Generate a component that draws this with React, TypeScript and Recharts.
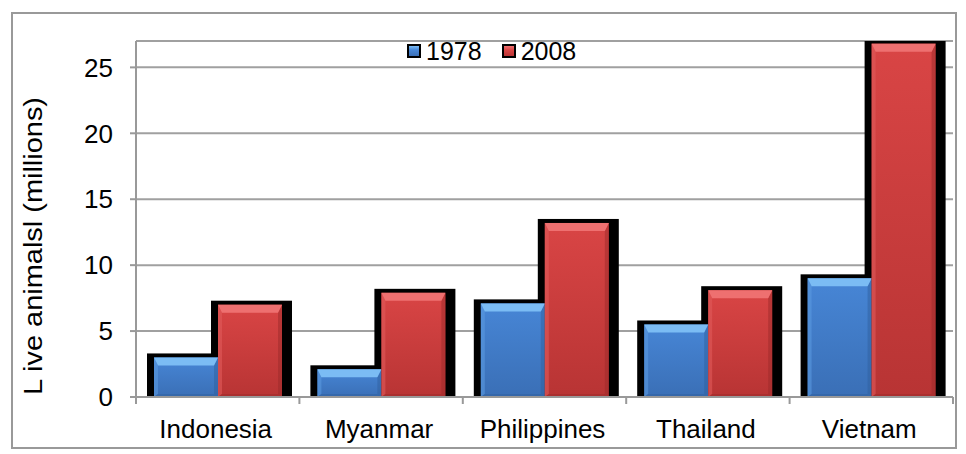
import { Bar, BarChart, CartesianGrid, Legend, XAxis, YAxis } from 'recharts';

const FONT = '"Liberation Sans", Arial, sans-serif';

const countries = ['Indonesia', 'Myanmar', 'Philippines', 'Thailand', 'Vietnam'];
const values1978 = [3.0, 2.1, 7.1, 5.5, 9.0];
const values2008 = [7.0, 7.9, 13.2, 8.1, 26.8];
const yTicks = [0, 5, 10, 15, 20, 25];

const data = countries.map((country, i) => ({
  country,
  y1978: values1978[i],
  y2008: values2008[i],
}));

const CHART_W = 950;
const CHART_H = 442;
const MARGIN = { top: 33, right: 5, bottom: 23, left: 0 };
const Y_AXIS_W = 128;
const HALF_BAND = (CHART_W - MARGIN.left - MARGIN.right - Y_AXIS_W) / countries.length / 2;

const palette: Record<string, { top: string; bottom: string; bevel: string; side: string; dark: string }> = {
  y1978: { top: '#4786d6', bottom: '#3a6fb6', bevel: '#7bbcf4', side: '#5a9ae0', dark: '#2f5f9e' },
  y2008: { top: '#d94545', bottom: '#b83434', bevel: '#ee7070', side: '#e05a5a', dark: '#9c2a2a' },
};

function ShadowBar(props: any) {
  const { x, y, width, height } = props;
  if (!height) return null;
  return <rect x={x - 7} y={y - 4} width={width + 17} height={height + 6} fill="#000" />;
}

function BevelBar(props: any) {
  const { x, y, width, height, dataKey, index } = props;
  if (!height) return null;
  const c = palette[dataKey] || palette.y1978;
  const t = Math.min(8, height / 2);
  const s = Math.min(4, width / 2);
  const id = `g-${dataKey}-${index}`;
  const r = x + width;
  const b = y + height;
  return (
    <g>
      <defs>
        <linearGradient id={id} x1="0" y1="0" x2="0" y2="1">
          <stop offset="0%" stopColor={c.top} />
          <stop offset="100%" stopColor={c.bottom} />
        </linearGradient>
      </defs>
      <rect x={x} y={y} width={width} height={height} fill={`url(#${id})`} />
      <polygon points={`${x},${y} ${x + s},${y + t} ${x + s},${b - 3} ${x},${b}`} fill={c.side} opacity={0.6} />
      <polygon points={`${r},${y} ${r},${b} ${r - s},${b - 3} ${r - s},${y + t}`} fill={c.dark} opacity={0.5} />
      <polygon points={`${x},${b} ${x + s},${b - 3} ${r - s},${b - 3} ${r},${b}`} fill={c.dark} opacity={0.5} />
      <polygon points={`${x},${y} ${r},${y} ${r - s},${y + t} ${x + s},${y + t}`} fill={c.bevel} />
    </g>
  );
}

function CategoryTick(props: any) {
  const { x, y, payload, index } = props;
  const last = index === countries.length - 1;
  return (
    <g>
      <line x1={x - HALF_BAND} x2={x - HALF_BAND} y1={y} y2={y + 7} stroke="#999" strokeWidth={2} />
      {last && <line x1={x + HALF_BAND} x2={x + HALF_BAND} y1={y} y2={y + 7} stroke="#999" strokeWidth={2} />}
      <text x={x - 2} y={y + 23} dy="0.71em" textAnchor="middle" fontSize={26} fontFamily={FONT} fill="#000">
        {payload.value}
      </text>
    </g>
  );
}

function YLabel(props: any) {
  const { viewBox } = props;
  const cx = viewBox.x + 25;
  const cy = viewBox.y + 205;
  return (
    <text
      x={cx}
      y={cy}
      transform={`rotate(-90, ${cx}, ${cy})`}
      textAnchor="middle"
      dominantBaseline="central"
      fontSize={26}
      fontFamily={FONT}
      textLength={298}
      lengthAdjust="spacingAndGlyphs"
      fill="#000"
    >
      L ive animalsl (millions)
    </text>
  );
}

function LegendContent(props: any) {
  const items = (props.payload || []).filter((p: any) => p.type !== 'none');
  return (
    <div style={{ display: 'flex', alignItems: 'center', fontFamily: FONT, fontSize: 25, color: '#000', lineHeight: '28px' }}>
      {items.map((p: any) => {
        const c = palette[p.dataKey] || palette.y1978;
        return (
          <div key={p.value} style={{ display: 'flex', alignItems: 'center', marginRight: 20 }}>
            <span
              style={{
                display: 'inline-block',
                width: 10,
                height: 10,
                border: '2px solid #000',
                background: `linear-gradient(${c.bevel}, ${c.top} 40%, ${c.bottom})`,
                marginRight: 5,
              }}
            />
            <span>{p.value}</span>
          </div>
        );
      })}
    </div>
  );
}

export default function App() {
  return (
    <div style={{ position: 'relative', width: CHART_W, height: CHART_H }}>
      <div
        style={{
          position: 'absolute',
          left: 3,
          top: 4,
          width: 946,
          height: 437,
          border: '2px solid #999',
          boxSizing: 'border-box',
        }}
      />
      <div style={{ position: 'absolute', left: 0, top: 0 }}>
        <BarChart width={CHART_W} height={CHART_H} data={data} margin={MARGIN} barCategoryGap={18} barGap={0}>
          <CartesianGrid vertical={false} stroke="#a0a0a0" strokeWidth={2} />
          <XAxis xAxisId="shadow" dataKey="country" hide />
          <XAxis
            dataKey="country"
            height={30}
            tickSize={0}
            tickMargin={0}
            tickLine={false}
            axisLine={{ stroke: '#999', strokeWidth: 2 }}
            tick={<CategoryTick />}
            interval={0}
          />
          <YAxis
            width={Y_AXIS_W}
            domain={[0, 27]}
            ticks={yTicks}
            allowDataOverflow
            tickSize={6}
            tickMargin={17}
            axisLine={{ stroke: '#999', strokeWidth: 2 }}
            tickLine={{ stroke: '#999', strokeWidth: 2 }}
            tick={{ fontSize: 26, fill: '#000', fontFamily: FONT }}
            label={<YLabel />}
          />
          <Legend
            verticalAlign="middle"
            align="center"
            layout="horizontal"
            wrapperStyle={{ top: 29, left: 399, width: 'auto' }}
            content={<LegendContent />}
          />
          <Bar xAxisId="shadow" dataKey="y1978" legendType="none" shape={<ShadowBar />} isAnimationActive={false} />
          <Bar xAxisId="shadow" dataKey="y2008" legendType="none" shape={<ShadowBar />} isAnimationActive={false} />
          <Bar dataKey="y1978" name="1978" fill="#4786d6" shape={<BevelBar />} isAnimationActive={false} />
          <Bar dataKey="y2008" name="2008" fill="#d94545" shape={<BevelBar />} isAnimationActive={false} />
        </BarChart>
      </div>
    </div>
  );
}
